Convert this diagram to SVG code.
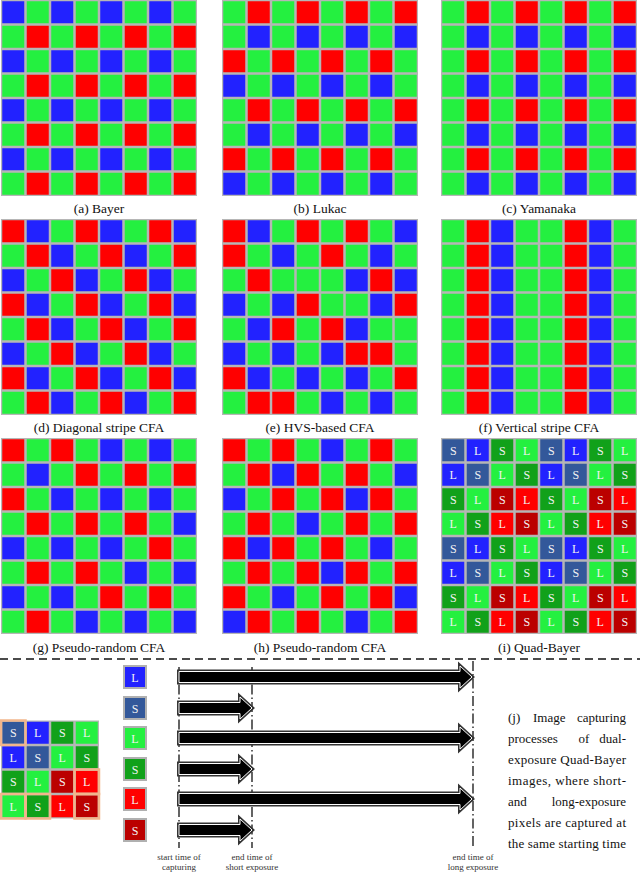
<svg xmlns="http://www.w3.org/2000/svg" xmlns:xlink="http://www.w3.org/1999/xlink" width="640" height="873" viewBox="0 0 640 873" font-family="'Liberation Serif', Tinos, 'Times New Roman', 'DejaVu Serif', serif">
<style>
.bg{fill:#b6b6b6}
.cap{font-family:'Liberation Serif',Tinos,'Times New Roman','DejaVu Serif',serif;font-size:13.5px;fill:#111;text-anchor:middle}
.q{font-family:'Liberation Serif',Tinos,'Times New Roman','DejaVu Serif',serif;font-size:12px;fill:#f2f2f2;text-anchor:middle}
.sm{font-family:'Liberation Serif',Tinos,'Times New Roman','DejaVu Serif',serif;font-size:9px;fill:#333;text-anchor:middle}
.para{font-family:'Liberation Serif',Tinos,'Times New Roman','DejaVu Serif',serif;font-size:13px;fill:#111}
.dd{stroke:#111;stroke-width:1.3;stroke-dasharray:10 3 1.5 3;fill:none}
.arO{fill:#000;stroke:#333;stroke-width:4}
.arI{fill:#000;stroke:#fff;stroke-width:1}
.org{fill:none;stroke:#f2b68c;stroke-width:2.5}
.leg{stroke:#b0b0b0;stroke-width:2}
</style>
<defs>
<rect id="G" width="22" height="22" fill="#24f040"/>
<rect id="R" width="22" height="22" fill="#ff0000"/>
<rect id="B" width="22" height="22" fill="#2222ff"/>
<g id="qSb"><rect width="22" height="22" fill="#33589a"/><text class="q" x="11" y="15.5">S</text></g>
<g id="qLb"><rect width="22" height="22" fill="#2222ff"/><text class="q" x="11" y="15.5">L</text></g>
<g id="qSg"><rect width="22" height="22" fill="#11a11a"/><text class="q" x="11" y="15.5">S</text></g>
<g id="qLg"><rect width="22" height="22" fill="#24f040"/><text class="q" x="11" y="15.5">L</text></g>
<g id="qSr"><rect width="22" height="22" fill="#bb0000"/><text class="q" x="11" y="15.5">S</text></g>
<g id="qLr"><rect width="22" height="22" fill="#ff0000"/><text class="q" x="11" y="15.5">L</text></g>
<g id="rBG"><use href="#B" x="1.25"/><use href="#G" x="25.75"/><use href="#B" x="50.25"/><use href="#G" x="74.75"/><use href="#B" x="99.25"/><use href="#G" x="123.75"/><use href="#B" x="148.25"/><use href="#G" x="172.75"/></g>
<g id="rGR"><use href="#G" x="1.25"/><use href="#R" x="25.75"/><use href="#G" x="50.25"/><use href="#R" x="74.75"/><use href="#G" x="99.25"/><use href="#R" x="123.75"/><use href="#G" x="148.25"/><use href="#R" x="172.75"/></g>
<g id="rGB"><use href="#G" x="1.25"/><use href="#B" x="25.75"/><use href="#G" x="50.25"/><use href="#B" x="74.75"/><use href="#G" x="99.25"/><use href="#B" x="123.75"/><use href="#G" x="148.25"/><use href="#B" x="172.75"/></g>
<g id="rRG"><use href="#R" x="1.25"/><use href="#G" x="25.75"/><use href="#R" x="50.25"/><use href="#G" x="74.75"/><use href="#R" x="99.25"/><use href="#G" x="123.75"/><use href="#R" x="148.25"/><use href="#G" x="172.75"/></g>
<g id="rD0"><use href="#R" x="1.25"/><use href="#B" x="25.75"/><use href="#G" x="50.25"/><use href="#R" x="74.75"/><use href="#B" x="99.25"/><use href="#G" x="123.75"/><use href="#R" x="148.25"/><use href="#B" x="172.75"/></g>
<g id="rD1"><use href="#G" x="1.25"/><use href="#R" x="25.75"/><use href="#B" x="50.25"/><use href="#G" x="74.75"/><use href="#R" x="99.25"/><use href="#B" x="123.75"/><use href="#G" x="148.25"/><use href="#R" x="172.75"/></g>
<g id="rD2"><use href="#B" x="1.25"/><use href="#G" x="25.75"/><use href="#R" x="50.25"/><use href="#B" x="74.75"/><use href="#G" x="99.25"/><use href="#R" x="123.75"/><use href="#B" x="148.25"/><use href="#G" x="172.75"/></g>
<g id="rV"><use href="#G" x="1.25"/><use href="#R" x="25.75"/><use href="#B" x="50.25"/><use href="#G" x="74.75"/><use href="#G" x="99.25"/><use href="#R" x="123.75"/><use href="#B" x="148.25"/><use href="#G" x="172.75"/></g>
<g id="q0"><use href="#qSb" x="1.25"/><use href="#qLb" x="25.75"/><use href="#qSg" x="50.25"/><use href="#qLg" x="74.75"/><use href="#qSb" x="99.25"/><use href="#qLb" x="123.75"/><use href="#qSg" x="148.25"/><use href="#qLg" x="172.75"/></g>
<g id="q1"><use href="#qLb" x="1.25"/><use href="#qSb" x="25.75"/><use href="#qLg" x="50.25"/><use href="#qSg" x="74.75"/><use href="#qLb" x="99.25"/><use href="#qSb" x="123.75"/><use href="#qLg" x="148.25"/><use href="#qSg" x="172.75"/></g>
<g id="q2"><use href="#qSg" x="1.25"/><use href="#qLg" x="25.75"/><use href="#qSr" x="50.25"/><use href="#qLr" x="74.75"/><use href="#qSg" x="99.25"/><use href="#qLg" x="123.75"/><use href="#qSr" x="148.25"/><use href="#qLr" x="172.75"/></g>
<g id="q3"><use href="#qLg" x="1.25"/><use href="#qSg" x="25.75"/><use href="#qLr" x="50.25"/><use href="#qSr" x="74.75"/><use href="#qLg" x="99.25"/><use href="#qSg" x="123.75"/><use href="#qLr" x="148.25"/><use href="#qSr" x="172.75"/></g>
</defs>
<rect width="640" height="873" fill="#fff"/>

<g id="bayer" transform="translate(1,0)">
<rect class="bg" width="196" height="196"/>
<use href="#rBG" y="1.25"/><use href="#rGR" y="25.75"/><use href="#rBG" y="50.25"/><use href="#rGR" y="74.75"/><use href="#rBG" y="99.25"/><use href="#rGR" y="123.75"/><use href="#rBG" y="148.25"/><use href="#rGR" y="172.75"/>
<text class="cap" x="98" y="213">(a) Bayer</text>
</g>

<g id="lukac" transform="translate(222,0)">
<rect class="bg" width="196" height="196"/>
<use href="#rGR" y="1.25"/><use href="#rGB" y="25.75"/><use href="#rRG" y="50.25"/><use href="#rBG" y="74.75"/><use href="#rGR" y="99.25"/><use href="#rGB" y="123.75"/><use href="#rRG" y="148.25"/><use href="#rBG" y="172.75"/>
<text class="cap" x="98" y="213">(b) Lukac</text>
</g>

<g id="yamanaka" transform="translate(441,0)">
<rect class="bg" width="196" height="196"/>
<use href="#rGR" y="1.25"/><use href="#rGB" y="25.75"/><use href="#rGR" y="50.25"/><use href="#rGB" y="74.75"/><use href="#rGR" y="99.25"/><use href="#rGB" y="123.75"/><use href="#rGR" y="148.25"/><use href="#rGB" y="172.75"/>
<text class="cap" x="98" y="213">(c) Yamanaka</text>
</g>

<g id="diagonal" transform="translate(1,219)">
<rect class="bg" width="196" height="196"/>
<use href="#rD0" y="1.25"/><use href="#rD1" y="25.75"/><use href="#rD2" y="50.25"/><use href="#rD0" y="74.75"/><use href="#rD1" y="99.25"/><use href="#rD2" y="123.75"/><use href="#rD0" y="148.25"/><use href="#rD1" y="172.75"/>
<text class="cap" x="98" y="213">(d) Diagonal stripe CFA</text>
</g>

<g id="hvs" transform="translate(222,219)">
<rect class="bg" width="196" height="196"/>
<g transform="translate(0,1.25)"><use href="#R" x="1.25"/><use href="#B" x="25.75"/><use href="#G" x="50.25"/><use href="#R" x="74.75"/><use href="#G" x="99.25"/><use href="#R" x="123.75"/><use href="#G" x="148.25"/><use href="#B" x="172.75"/></g>
<g transform="translate(0,25.75)"><use href="#R" x="1.25"/><use href="#G" x="25.75"/><use href="#B" x="50.25"/><use href="#G" x="74.75"/><use href="#R" x="99.25"/><use href="#G" x="123.75"/><use href="#B" x="148.25"/><use href="#G" x="172.75"/></g>
<g transform="translate(0,50.25)"><use href="#G" x="1.25"/><use href="#R" x="25.75"/><use href="#G" x="50.25"/><use href="#G" x="74.75"/><use href="#G" x="99.25"/><use href="#B" x="123.75"/><use href="#R" x="148.25"/><use href="#B" x="172.75"/></g>
<g transform="translate(0,74.75)"><use href="#B" x="1.25"/><use href="#G" x="25.75"/><use href="#B" x="50.25"/><use href="#R" x="74.75"/><use href="#G" x="99.25"/><use href="#G" x="123.75"/><use href="#B" x="148.25"/><use href="#R" x="172.75"/></g>
<g transform="translate(0,99.25)"><use href="#G" x="1.25"/><use href="#B" x="25.75"/><use href="#R" x="50.25"/><use href="#G" x="74.75"/><use href="#R" x="99.25"/><use href="#B" x="123.75"/><use href="#G" x="148.25"/><use href="#G" x="172.75"/></g>
<g transform="translate(0,123.75)"><use href="#B" x="1.25"/><use href="#G" x="25.75"/><use href="#B" x="50.25"/><use href="#G" x="74.75"/><use href="#B" x="99.25"/><use href="#R" x="123.75"/><use href="#R" x="148.25"/><use href="#G" x="172.75"/></g>
<g transform="translate(0,148.25)"><use href="#R" x="1.25"/><use href="#B" x="25.75"/><use href="#G" x="50.25"/><use href="#B" x="74.75"/><use href="#G" x="99.25"/><use href="#B" x="123.75"/><use href="#G" x="148.25"/><use href="#R" x="172.75"/></g>
<g transform="translate(0,172.75)"><use href="#G" x="1.25"/><use href="#R" x="25.75"/><use href="#R" x="50.25"/><use href="#G" x="74.75"/><use href="#B" x="99.25"/><use href="#G" x="123.75"/><use href="#B" x="148.25"/><use href="#G" x="172.75"/></g>
<text class="cap" x="98" y="213">(e) HVS-based CFA</text>
</g>

<g id="vertical" transform="translate(441,219)">
<rect class="bg" width="196" height="196"/>
<use href="#rV" y="1.25"/><use href="#rV" y="25.75"/><use href="#rV" y="50.25"/><use href="#rV" y="74.75"/><use href="#rV" y="99.25"/><use href="#rV" y="123.75"/><use href="#rV" y="148.25"/><use href="#rV" y="172.75"/>
<text class="cap" x="98" y="213">(f) Vertical stripe CFA</text>
</g>

<g id="pseudo1" transform="translate(1,438)">
<rect class="bg" width="196" height="196"/>
<g transform="translate(0,1.25)"><use href="#R" x="1.25"/><use href="#G" x="25.75"/><use href="#R" x="50.25"/><use href="#G" x="74.75"/><use href="#B" x="99.25"/><use href="#G" x="123.75"/><use href="#B" x="148.25"/><use href="#G" x="172.75"/></g>
<g transform="translate(0,25.75)"><use href="#G" x="1.25"/><use href="#B" x="25.75"/><use href="#G" x="50.25"/><use href="#R" x="74.75"/><use href="#G" x="99.25"/><use href="#R" x="123.75"/><use href="#G" x="148.25"/><use href="#R" x="172.75"/></g>
<g transform="translate(0,50.25)"><use href="#R" x="1.25"/><use href="#G" x="25.75"/><use href="#B" x="50.25"/><use href="#G" x="74.75"/><use href="#B" x="99.25"/><use href="#G" x="123.75"/><use href="#B" x="148.25"/><use href="#G" x="172.75"/></g>
<g transform="translate(0,74.75)"><use href="#G" x="1.25"/><use href="#R" x="25.75"/><use href="#G" x="50.25"/><use href="#R" x="74.75"/><use href="#G" x="99.25"/><use href="#R" x="123.75"/><use href="#G" x="148.25"/><use href="#B" x="172.75"/></g>
<g transform="translate(0,99.25)"><use href="#B" x="1.25"/><use href="#G" x="25.75"/><use href="#B" x="50.25"/><use href="#G" x="74.75"/><use href="#B" x="99.25"/><use href="#G" x="123.75"/><use href="#R" x="148.25"/><use href="#G" x="172.75"/></g>
<g transform="translate(0,123.75)"><use href="#G" x="1.25"/><use href="#R" x="25.75"/><use href="#G" x="50.25"/><use href="#R" x="74.75"/><use href="#G" x="99.25"/><use href="#B" x="123.75"/><use href="#G" x="148.25"/><use href="#B" x="172.75"/></g>
<g transform="translate(0,148.25)"><use href="#B" x="1.25"/><use href="#G" x="25.75"/><use href="#B" x="50.25"/><use href="#G" x="74.75"/><use href="#R" x="99.25"/><use href="#G" x="123.75"/><use href="#R" x="148.25"/><use href="#G" x="172.75"/></g>
<g transform="translate(0,172.75)"><use href="#G" x="1.25"/><use href="#R" x="25.75"/><use href="#G" x="50.25"/><use href="#B" x="74.75"/><use href="#G" x="99.25"/><use href="#B" x="123.75"/><use href="#G" x="148.25"/><use href="#B" x="172.75"/></g>
<text class="cap" x="98" y="214">(g) Pseudo-random CFA</text>
</g>

<g id="pseudo2" transform="translate(222,438)">
<rect class="bg" width="196" height="196"/>
<g transform="translate(0,1.25)"><use href="#R" x="1.25"/><use href="#G" x="25.75"/><use href="#R" x="50.25"/><use href="#G" x="74.75"/><use href="#B" x="99.25"/><use href="#G" x="123.75"/><use href="#R" x="148.25"/><use href="#G" x="172.75"/></g>
<g transform="translate(0,25.75)"><use href="#G" x="1.25"/><use href="#R" x="25.75"/><use href="#B" x="50.25"/><use href="#R" x="74.75"/><use href="#G" x="99.25"/><use href="#R" x="123.75"/><use href="#G" x="148.25"/><use href="#B" x="172.75"/></g>
<g transform="translate(0,50.25)"><use href="#B" x="1.25"/><use href="#G" x="25.75"/><use href="#R" x="50.25"/><use href="#G" x="74.75"/><use href="#R" x="99.25"/><use href="#B" x="123.75"/><use href="#R" x="148.25"/><use href="#G" x="172.75"/></g>
<g transform="translate(0,74.75)"><use href="#G" x="1.25"/><use href="#R" x="25.75"/><use href="#G" x="50.25"/><use href="#B" x="74.75"/><use href="#G" x="99.25"/><use href="#R" x="123.75"/><use href="#G" x="148.25"/><use href="#R" x="172.75"/></g>
<g transform="translate(0,99.25)"><use href="#R" x="1.25"/><use href="#B" x="25.75"/><use href="#R" x="50.25"/><use href="#G" x="74.75"/><use href="#R" x="99.25"/><use href="#G" x="123.75"/><use href="#B" x="148.25"/><use href="#G" x="172.75"/></g>
<g transform="translate(0,123.75)"><use href="#G" x="1.25"/><use href="#R" x="25.75"/><use href="#G" x="50.25"/><use href="#R" x="74.75"/><use href="#B" x="99.25"/><use href="#R" x="123.75"/><use href="#G" x="148.25"/><use href="#R" x="172.75"/></g>
<g transform="translate(0,148.25)"><use href="#R" x="1.25"/><use href="#G" x="25.75"/><use href="#B" x="50.25"/><use href="#G" x="74.75"/><use href="#R" x="99.25"/><use href="#G" x="123.75"/><use href="#R" x="148.25"/><use href="#B" x="172.75"/></g>
<g transform="translate(0,172.75)"><use href="#B" x="1.25"/><use href="#R" x="25.75"/><use href="#G" x="50.25"/><use href="#R" x="74.75"/><use href="#G" x="99.25"/><use href="#B" x="123.75"/><use href="#G" x="148.25"/><use href="#R" x="172.75"/></g>
<text class="cap" x="98" y="214">(h) Pseudo-random CFA</text>
</g>

<g id="quadbayer" transform="translate(441,438)">
<rect class="bg" width="196" height="196"/>
<use href="#q0" y="1.25"/><use href="#q1" y="25.75"/><use href="#q2" y="50.25"/><use href="#q3" y="74.75"/><use href="#q0" y="99.25"/><use href="#q1" y="123.75"/><use href="#q2" y="148.25"/><use href="#q3" y="172.75"/>
<text class="cap" x="98" y="214">(i) Quad-Bayer</text>
</g>

<line x1="0" y1="659" x2="640" y2="659" stroke="#111" stroke-width="1.3" stroke-dasharray="8 5"/>

<g id="mini" transform="translate(1,720.5)">
<rect class="bg" width="98" height="98"/>
<g transform="translate(0,1.25)"><use href="#qSb" x="1.25"/><use href="#qLb" x="25.75"/><use href="#qSg" x="50.25"/><use href="#qLg" x="74.75"/></g>
<g transform="translate(0,25.75)"><use href="#qLb" x="1.25"/><use href="#qSb" x="25.75"/><use href="#qLg" x="50.25"/><use href="#qSg" x="74.75"/></g>
<g transform="translate(0,50.25)"><use href="#qSg" x="1.25"/><use href="#qLg" x="25.75"/><use href="#qSr" x="50.25"/><use href="#qLr" x="74.75"/></g>
<g transform="translate(0,74.75)"><use href="#qLg" x="1.25"/><use href="#qSg" x="25.75"/><use href="#qLr" x="50.25"/><use href="#qSr" x="74.75"/></g>
<rect class="org" x="0" y="0" width="24.5" height="24.5"/>
<rect class="org" x="0" y="73.5" width="24.5" height="24.5"/>
<rect class="org" x="24.5" y="73.5" width="24.5" height="24.5"/>
<rect class="org" x="73.5" y="49" width="24.5" height="24.5"/>
<rect class="org" x="73.5" y="73.5" width="24.5" height="24.5"/>
</g>

<g id="legend">
<g id="leg-L-blue"><rect class="leg" x="124" y="666" width="22" height="22" fill="#2222ff"/><text class="q" x="135" y="681.5">L</text></g>
<g id="leg-S-blue"><rect class="leg" x="124" y="697" width="22" height="22" fill="#33589a"/><text class="q" x="135" y="712.5">S</text></g>
<g id="leg-L-green"><rect class="leg" x="124" y="727" width="22" height="22" fill="#24f040"/><text class="q" x="135" y="742.5">L</text></g>
<g id="leg-S-green"><rect class="leg" x="124" y="758" width="22" height="22" fill="#11a11a"/><text class="q" x="135" y="773.5">S</text></g>
<g id="leg-L-red"><rect class="leg" x="124" y="788" width="22" height="22" fill="#ff0000"/><text class="q" x="135" y="803.5">L</text></g>
<g id="leg-S-red"><rect class="leg" x="124" y="819" width="22" height="22" fill="#bb0000"/><text class="q" x="135" y="834.5">S</text></g>
</g>

<g id="timelines">
<line class="dd" x1="179" y1="667" x2="179" y2="848"/>
<line class="dd" x1="252" y1="667" x2="252" y2="848"/>
<line class="dd" x1="473" y1="661" x2="473" y2="846"/>
</g>

<g id="connectors">
<path class="arO" d="M179,671.5H460V666L472,677L460,688V682.5H179Z"/>
<path class="arI" d="M179,671.5H460V666L472,677L460,688V682.5H179Z"/>
<path class="arO" d="M179,702.5H240V697L252,708L240,719V713.5H179Z"/>
<path class="arI" d="M179,702.5H240V697L252,708L240,719V713.5H179Z"/>
<path class="arO" d="M179,732.5H460V727L472,738L460,749V743.5H179Z"/>
<path class="arI" d="M179,732.5H460V727L472,738L460,749V743.5H179Z"/>
<path class="arO" d="M179,763.5H240V758L252,769L240,780V774.5H179Z"/>
<path class="arI" d="M179,763.5H240V758L252,769L240,780V774.5H179Z"/>
<path class="arO" d="M179,793.5H460V788L472,799L460,810V804.5H179Z"/>
<path class="arI" d="M179,793.5H460V788L472,799L460,810V804.5H179Z"/>
<path class="arO" d="M179,824.5H240V819L252,830L240,841V835.5H179Z"/>
<path class="arI" d="M179,824.5H240V819L252,830L240,841V835.5H179Z"/>
</g>

<g id="time-labels">
<text class="sm" x="179" y="860">start time of</text>
<text class="sm" x="179" y="870">capturing</text>
<text class="sm" x="252" y="860">end time of</text>
<text class="sm" x="252" y="870">short exposure</text>
<text class="sm" x="473" y="860">end time of</text>
<text class="sm" x="473" y="870">long exposure</text>
</g>

<g id="caption-j" class="para">
<text x="508" y="722">(j)</text><text x="533" y="722">Image</text><text x="626" y="722" text-anchor="end">capturing</text>
<text x="508" y="743">processes</text><text x="584" y="743" text-anchor="middle">of</text><text x="626" y="743" text-anchor="end">dual-</text>
<text x="508" y="764" textLength="118" lengthAdjust="spacing">exposure Quad-Bayer</text>
<text x="508" y="785" textLength="118" lengthAdjust="spacing">images, where short-</text>
<text x="508" y="806">and</text><text x="626" y="806" text-anchor="end">long-exposure</text>
<text x="508" y="827" textLength="118" lengthAdjust="spacing">pixels are captured at</text>
<text x="508" y="848" textLength="118" lengthAdjust="spacing">the same starting time</text>
</g>
</svg>
